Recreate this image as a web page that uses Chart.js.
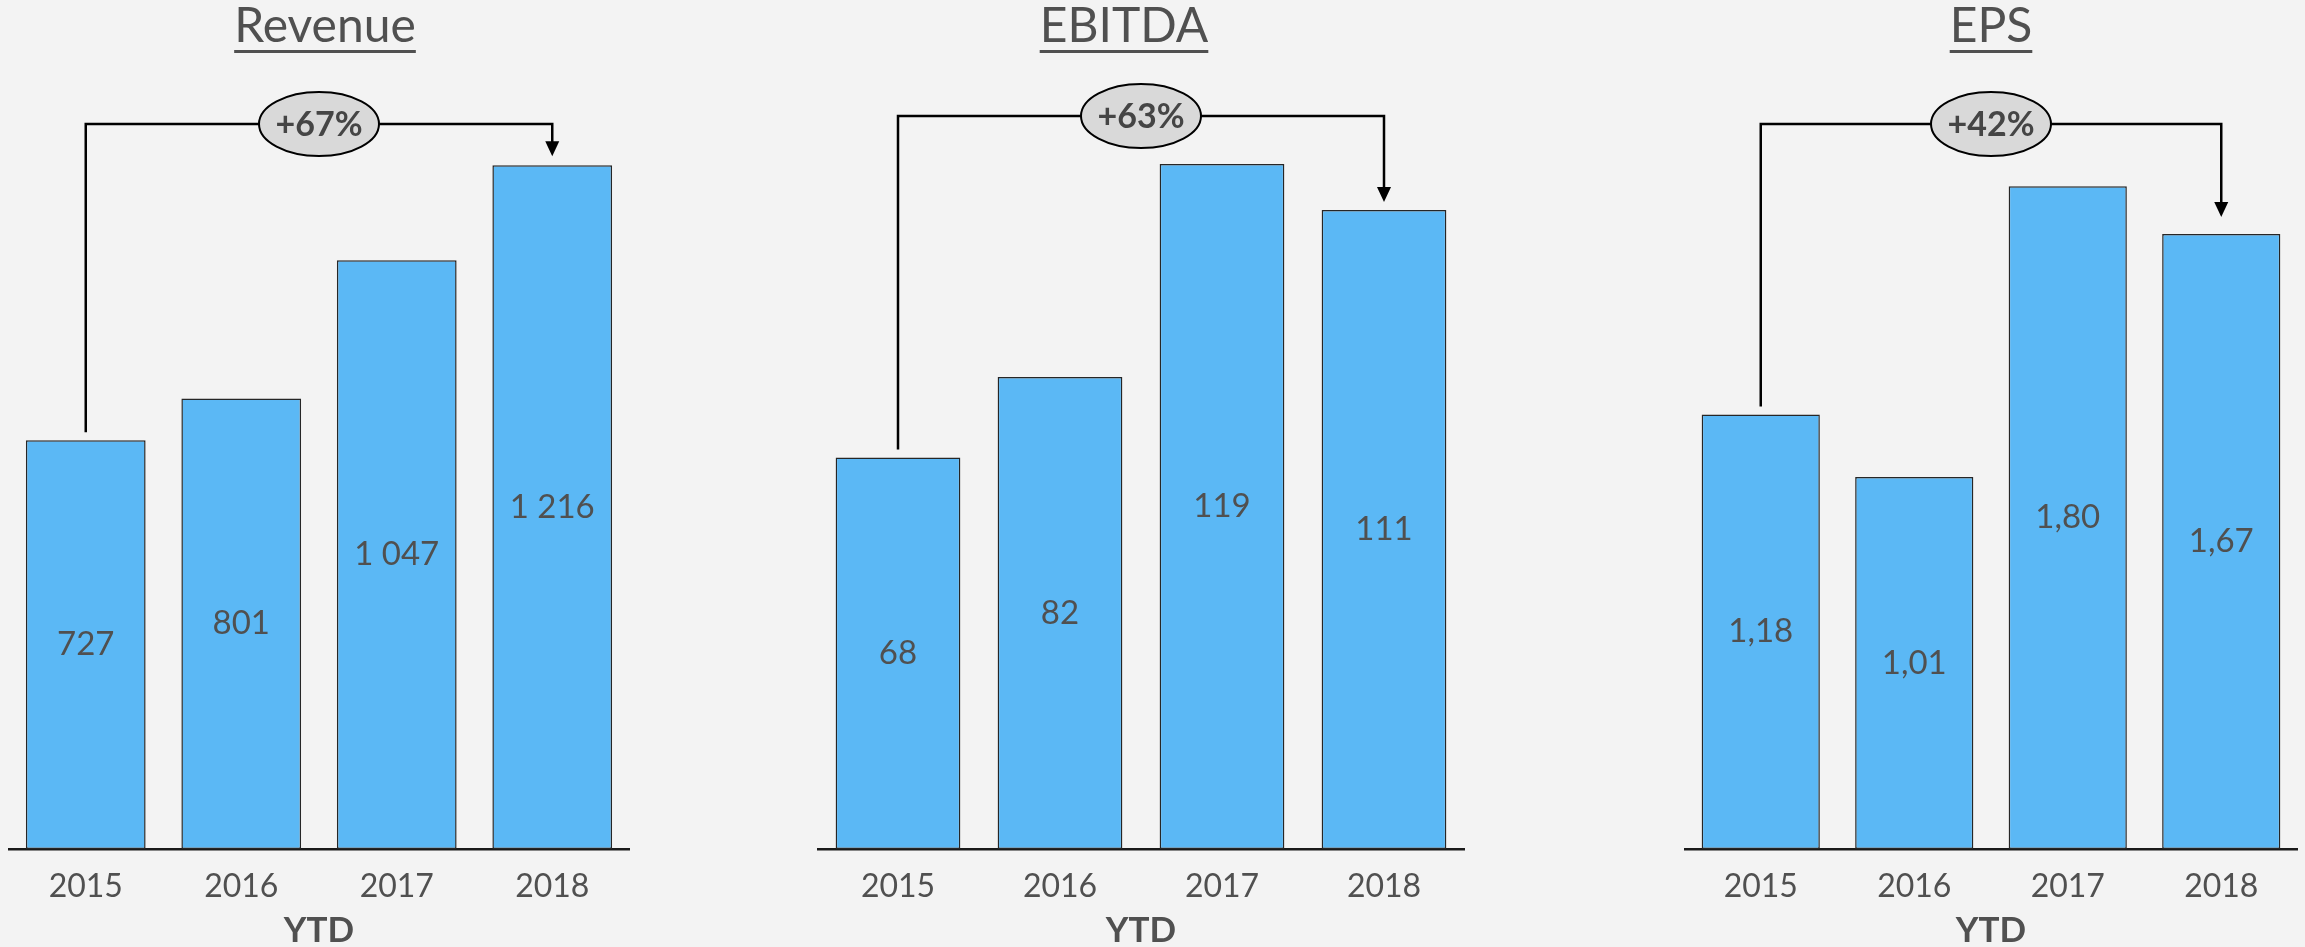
<!DOCTYPE html>
<html lang="en">
<head>
    <meta charset="UTF-8">
    <title>Revenue / EBITDA / EPS</title>
    <script src="https://cdn.jsdelivr.net/npm/chart.js"></script>
    <style>
        html, body {
            margin: 0;
            padding: 0;
            width: 2305px;
            height: 947px;
            overflow: hidden;
            background-color: #f3f3f3;
            font-family: Lato, sans-serif;
        }
        .panel {
            position: absolute;
            top: 0;
            height: 947px;
        }
        .title {
            position: absolute;
            top: 0px;
            transform: translateX(-50%);
            font-size: 48px;
            line-height: 48px;
            color: #505050;
            text-decoration: underline;
            text-decoration-thickness: 3px;
            text-underline-offset: 8px;
            white-space: nowrap;
            z-index: 2;
        }
    </style>
</head>
<body>
    <div class="title" id="t0"></div>
    <div class="title" id="t1"></div>
    <div class="title" id="t2"></div>
    <div class="panel" id="p0"><canvas id="c0"></canvas></div>
    <div class="panel" id="p1"><canvas id="c1"></canvas></div>
    <div class="panel" id="p2"><canvas id="c2"></canvas></div>

    <script>
        // Données
        const years = ['2015', '2016', '2017', '2018'];
        const revenue = [727, 801, 1047, 1216];
        const ebitda = [68, 82, 119, 111];
        const eps = [1.18, 1.01, 1.80, 1.67];
        const titles = ['Revenue', 'EBITDA', 'EPS'];
        const yMax = [1332, 130.1, 2.034];

        // Mise en page (pixels)
        const panels = [
            { left: 8, width: 622, titleX: 325, lineY: 124, arrowGap: 9 },
            { left: 817, width: 648, titleX: 1124, lineY: 116, arrowGap: 8 },
            { left: 1684, width: 614, titleX: 1991, lineY: 124, arrowGap: 17 }
        ];

        const textColor = '#505050';
        Chart.defaults.font.family = 'Lato, sans-serif';

        function fmtThousands(v) {
            return String(v).replace(/\B(?=(\d{3})+(?!\d))/g, ' ');
        }
        function fmtDecimal(v) {
            return v.toFixed(2).replace('.', ',');
        }
        const formats = [fmtThousands, fmtThousands, fmtDecimal];

        // Étiquettes au centre des barres
        const valueLabels = {
            id: 'valueLabels',
            afterDatasetsDraw(chart) {
                const ctx = chart.ctx;
                const fmt = formats[chart.options.plugins.valueLabels.idx];
                const meta = chart.getDatasetMeta(0);
                ctx.save();
                ctx.font = '33px Lato, sans-serif';
                ctx.fillStyle = textColor;
                ctx.textAlign = 'center';
                ctx.textBaseline = 'middle';
                meta.data.forEach((bar, i) => {
                    const v = chart.data.datasets[0].data[i];
                    ctx.fillText(fmt(v), bar.x, (bar.y + bar.base) / 2);
                });
                ctx.restore();
            }
        };

        // Flèche de croissance 2015 -> 2018
        const bracket = {
            id: 'bracket',
            afterDatasetsDraw(chart) {
                const o = chart.options.plugins.bracket;
                const ctx = chart.ctx;
                const meta = chart.getDatasetMeta(0);
                const data = chart.data.datasets[0].data;
                const first = meta.data[0];
                const last = meta.data[meta.data.length - 1];
                const tipY = last.y - o.arrowGap;
                const headH = 15, headW = 7;

                ctx.save();
                ctx.strokeStyle = '#000';
                ctx.lineWidth = 2.5;
                ctx.beginPath();
                ctx.moveTo(first.x, first.y - 8);
                ctx.lineTo(first.x, o.lineY);
                ctx.lineTo(last.x, o.lineY);
                ctx.lineTo(last.x, tipY - headH + 1);
                ctx.stroke();

                ctx.fillStyle = '#000';
                ctx.beginPath();
                ctx.moveTo(last.x - headW, tipY - headH);
                ctx.lineTo(last.x + headW, tipY - headH);
                ctx.lineTo(last.x, tipY);
                ctx.closePath();
                ctx.fill();

                const cx = (chart.chartArea.left + chart.chartArea.right) / 2;
                ctx.beginPath();
                ctx.ellipse(cx, o.lineY, 60, 32, 0, 0, Math.PI * 2);
                ctx.fillStyle = '#d9d9d9';
                ctx.fill();
                ctx.lineWidth = 2;
                ctx.stroke();

                const growth = Math.round((data[data.length - 1] / data[0] - 1) * 100);
                ctx.font = 'bold 34px Lato, sans-serif';
                ctx.fillStyle = '#454545';
                ctx.textAlign = 'center';
                ctx.textBaseline = 'middle';
                ctx.fillText('+' + growth + '%', cx, o.lineY + 1);
                ctx.restore();
            }
        };

        const series = [revenue, ebitda, eps];

        series.forEach((values, i) => {
            const p = panels[i];
            const box = document.getElementById('p' + i);
            box.style.left = p.left + 'px';
            box.style.width = p.width + 'px';

            const t = document.getElementById('t' + i);
            t.textContent = titles[i];
            t.style.left = p.titleX + 'px';

            new Chart(document.getElementById('c' + i), {
                type: 'bar',
                data: {
                    labels: years,
                    datasets: [{
                        data: values,
                        backgroundColor: '#5bb8f5',
                        borderColor: '#262626',
                        borderWidth: 1.5,
                        borderSkipped: false,
                        barPercentage: 0.77,
                        categoryPercentage: 1
                    }]
                },
                options: {
                    responsive: true,
                    maintainAspectRatio: false,
                    animation: false,
                    events: [],
                    layout: { padding: { top: 100, left: 0, right: 0, bottom: 0 } },
                    plugins: {
                        legend: { display: false },
                        tooltip: { enabled: false },
                        valueLabels: { idx: i },
                        bracket: { lineY: p.lineY, arrowGap: p.arrowGap }
                    },
                    scales: {
                        x: {
                            grid: { display: false, drawTicks: false },
                            border: { display: true, color: '#1a1a1a', width: 2.5 },
                            ticks: {
                                color: textColor,
                                font: { size: 32 },
                                padding: 18
                            },
                            title: {
                                display: true,
                                text: 'YTD',
                                color: textColor,
                                font: { size: 35, weight: 'bold' },
                                padding: { top: 0, bottom: -5 }
                            },
                            afterFit(scale) { scale.height = 98; }
                        },
                        y: {
                            display: false,
                            min: 0,
                            max: yMax[i]
                        }
                    }
                },
                plugins: [valueLabels, bracket]
            });
        });
    </script>
</body>
</html>
